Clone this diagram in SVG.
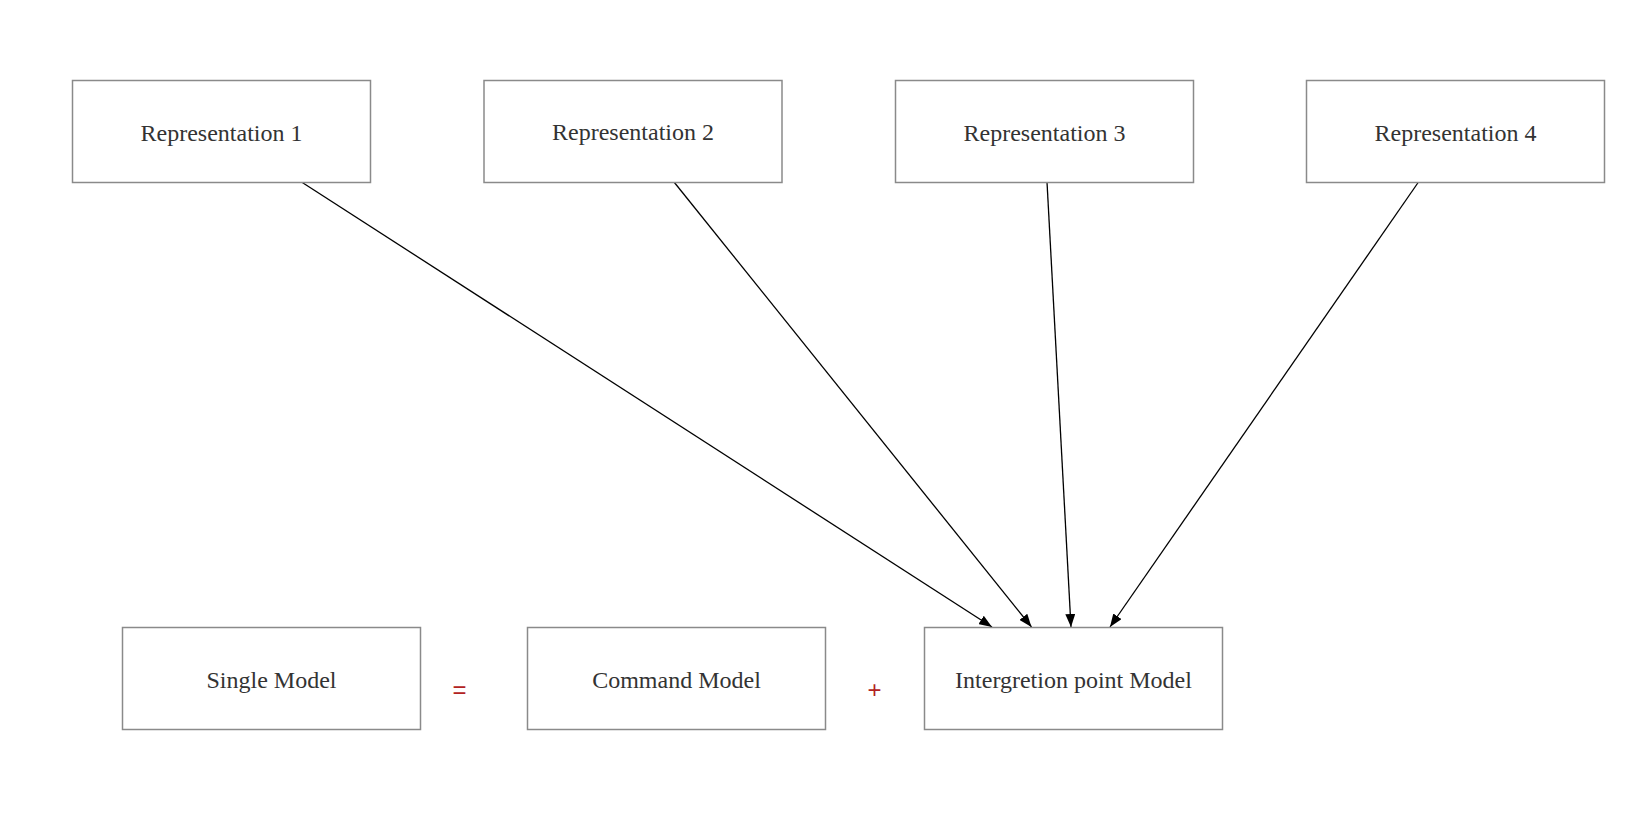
<svg xmlns="http://www.w3.org/2000/svg" width="1640" height="826" viewBox="0 0 1640 826">
  <style>
    .box { fill: #ffffff; stroke: #8a8a8a; stroke-width: 1.5; }
    .label { font-family: "Liberation Serif", "Times New Roman", serif; font-size: 24px; fill: #333333; text-anchor: middle; }
    .op { font-family: "Liberation Sans", Arial, sans-serif; font-size: 24px; fill: #b22222; text-anchor: middle; }
    .edge { stroke: #000000; stroke-width: 1.3; fill: none; marker-end: url(#arrow); }
  </style>
  <defs>
    <marker id="arrow" viewBox="0 0 13 10" refX="13" refY="5" markerWidth="13" markerHeight="10" markerUnits="userSpaceOnUse" orient="auto">
      <path d="M0,0 L13,5 L0,10 z" fill="#000000"/>
    </marker>
  </defs>
  <rect width="1640" height="826" fill="#ffffff"/>

  <g id="connectors">
    <line class="edge" x1="301.5" y1="182" x2="992" y2="627"/>
    <line class="edge" x1="674" y1="182" x2="1031.5" y2="627"/>
    <line class="edge" x1="1047" y1="182" x2="1071" y2="627"/>
    <line class="edge" x1="1418.5" y1="182" x2="1110" y2="627"/>
  </g>

  <g id="rep1">
    <rect class="box" x="72.5" y="80.5" width="298" height="102"/>
    <text class="label" x="221.5" y="140.5">Representation 1</text>
  </g>
  <g id="rep2">
    <rect class="box" x="484" y="80.5" width="298" height="102"/>
    <text class="label" x="633" y="140">Representation 2</text>
  </g>
  <g id="rep3">
    <rect class="box" x="895.5" y="80.5" width="298" height="102"/>
    <text class="label" x="1044.5" y="140.5">Representation 3</text>
  </g>
  <g id="rep4">
    <rect class="box" x="1306.5" y="80.5" width="298" height="102"/>
    <text class="label" x="1455.5" y="140.5">Representation 4</text>
  </g>

  <g id="single-model">
    <rect class="box" x="122.5" y="627.5" width="298" height="102"/>
    <text class="label" x="271.5" y="688">Single Model</text>
  </g>
  <g id="equals">
    <text class="op" x="459.5" y="698">=</text>
  </g>
  <g id="command-model">
    <rect class="box" x="527.5" y="627.5" width="298" height="102"/>
    <text class="label" x="676.5" y="688">Command Model</text>
  </g>
  <g id="plus">
    <text class="op" x="874.5" y="698">+</text>
  </g>
  <g id="integration-model">
    <rect class="box" x="924.5" y="627.5" width="298" height="102"/>
    <text class="label" x="1073.5" y="688">Intergretion point Model</text>
  </g>
</svg>
